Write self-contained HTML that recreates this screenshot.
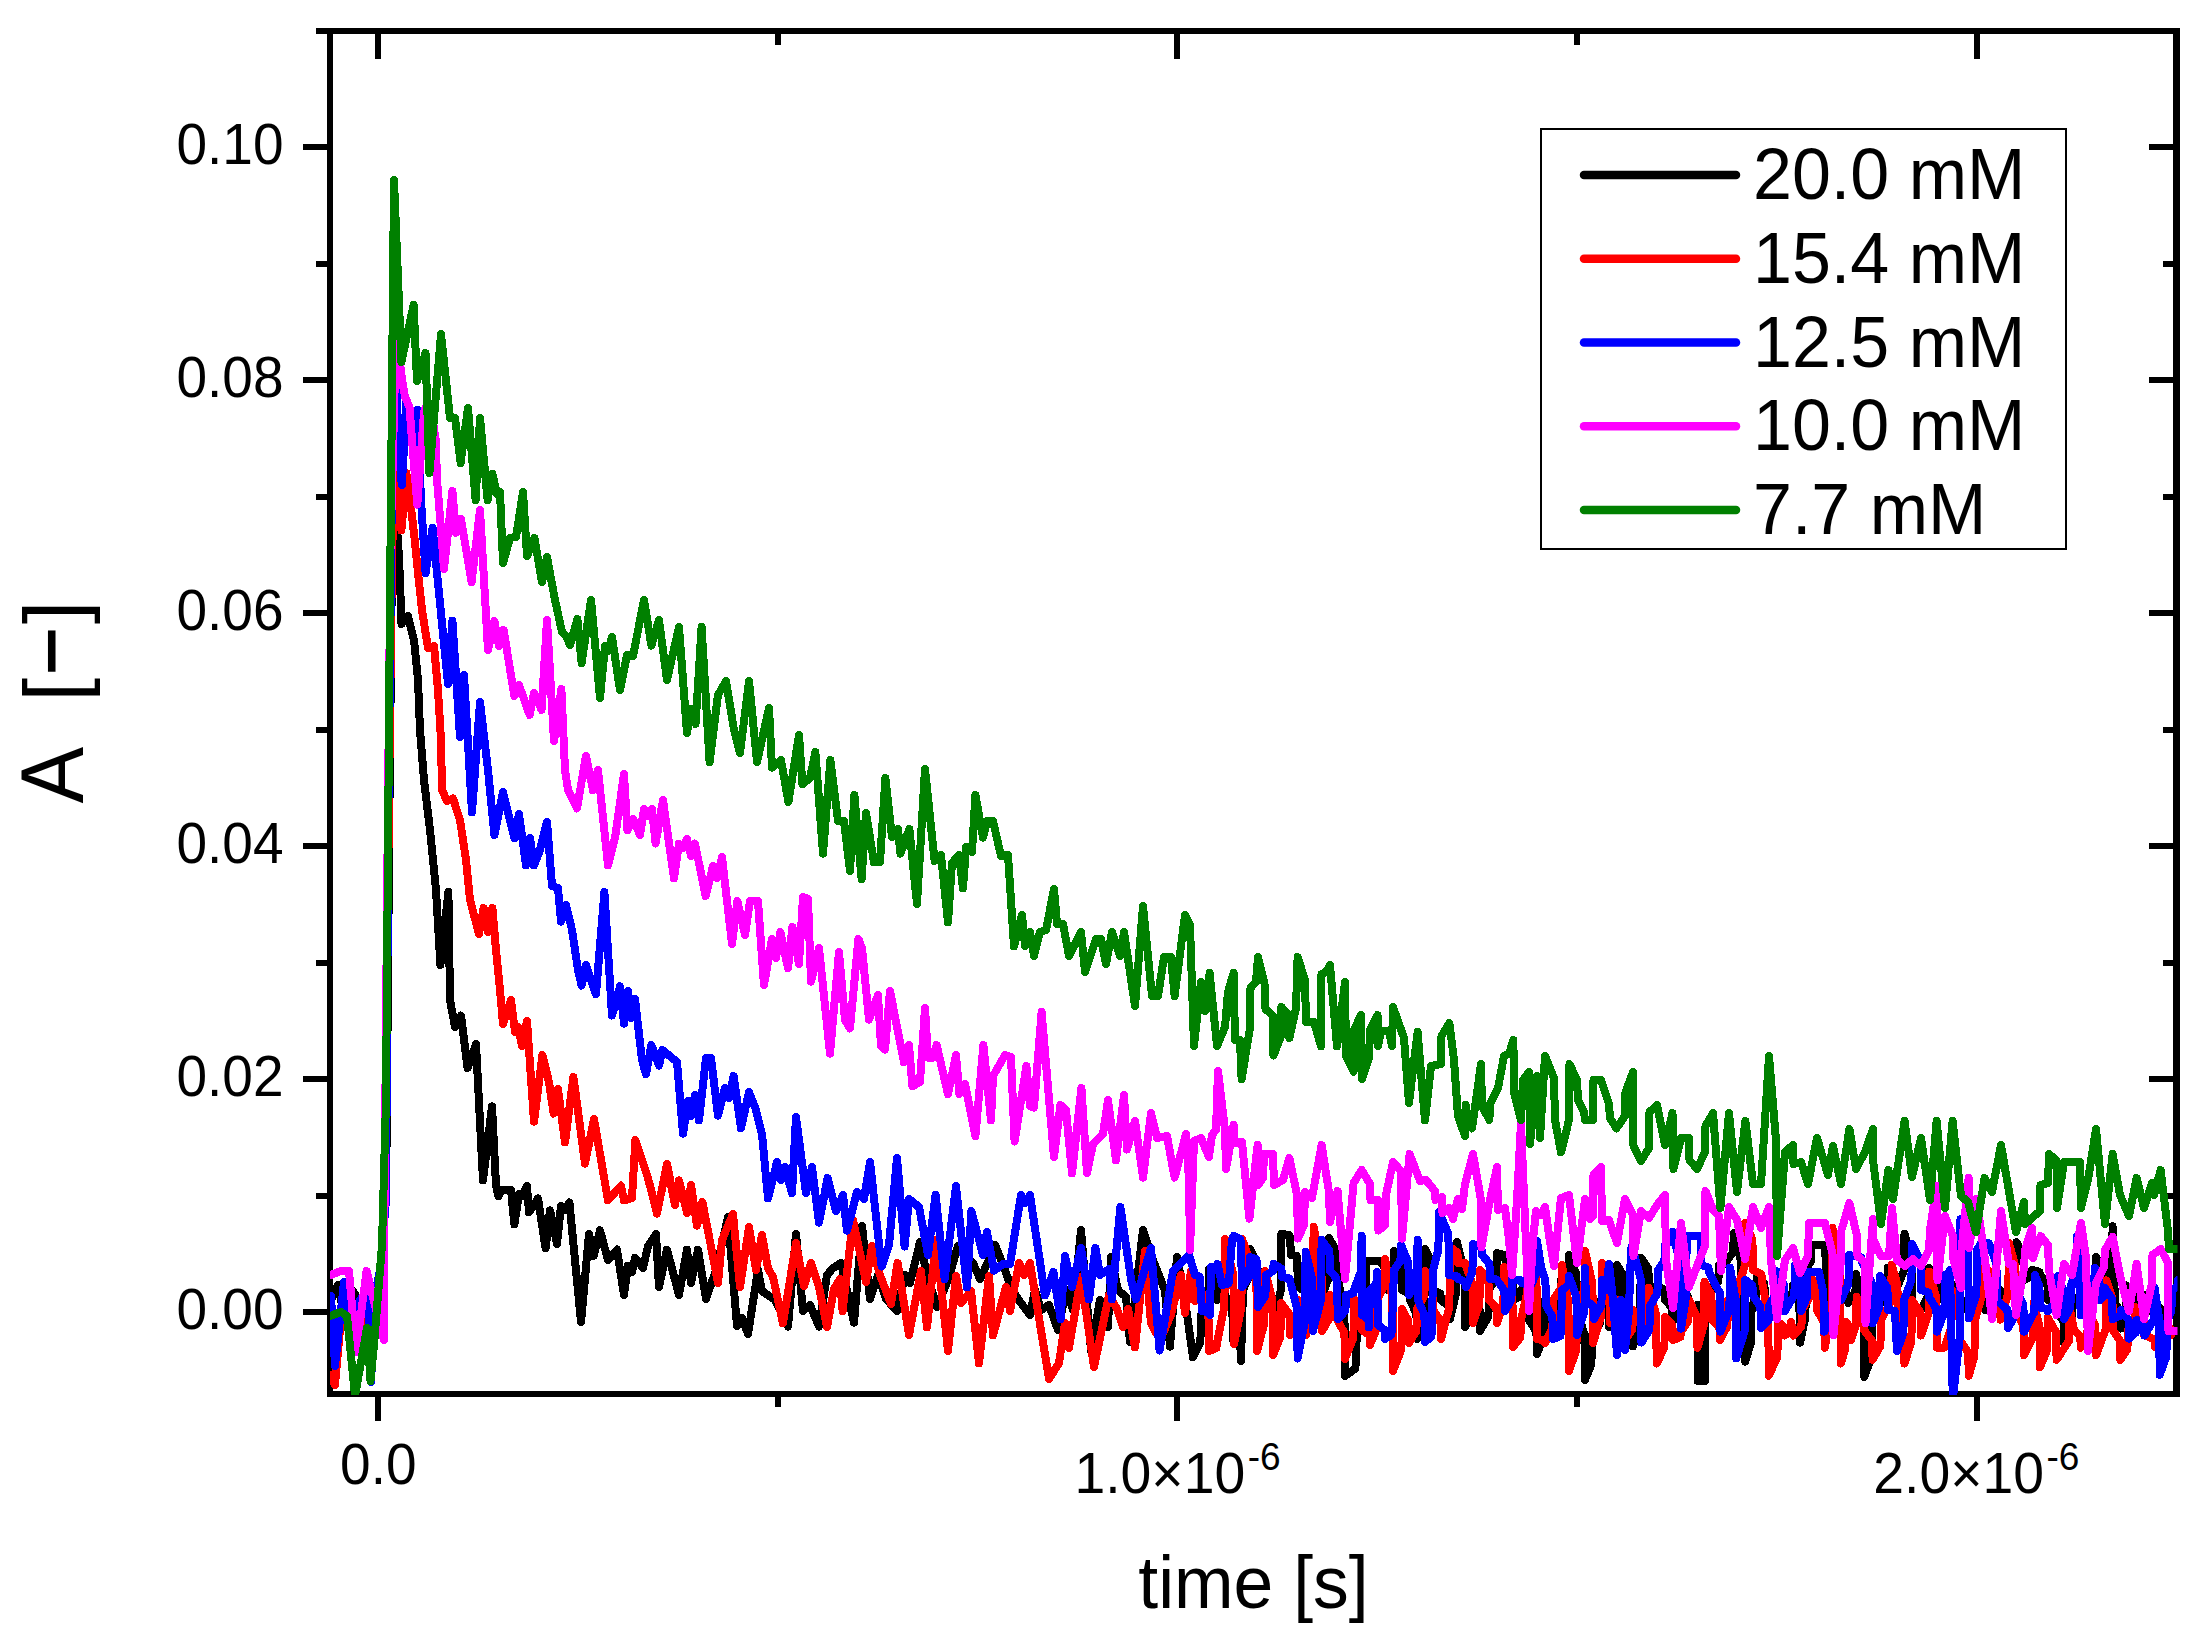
<!DOCTYPE html>
<html><head><meta charset="utf-8"><title>A vs time</title>
<style>
html,body{margin:0;padding:0;background:#fff;}
svg{display:block}
text{font-family:"Liberation Sans",sans-serif;fill:#000}
</style></head><body>
<svg width="2205" height="1649" viewBox="0 0 2205 1649">
<rect width="2205" height="1649" fill="#fff"/>
<clipPath id="pc"><rect x="330" y="31" width="1847.5" height="1364"/></clipPath>

<g fill="#000" shape-rendering="crispEdges">
<rect x="327" y="28" width="6" height="1369"/>
<rect x="2173" y="28" width="7" height="1369"/>
<rect x="327" y="28" width="1853" height="6"/>
<rect x="327" y="1391" width="1853" height="6"/>
<rect x="303" y="1309.0" width="25" height="6"/>
<rect x="2149" y="1309.0" width="25" height="6"/>
<rect x="316" y="1192.5" width="12" height="6"/>
<rect x="2163" y="1192.5" width="11" height="6"/>
<rect x="303" y="1076.1" width="25" height="6"/>
<rect x="2149" y="1076.1" width="25" height="6"/>
<rect x="316" y="959.6" width="12" height="6"/>
<rect x="2163" y="959.6" width="11" height="6"/>
<rect x="303" y="843.2" width="25" height="6"/>
<rect x="2149" y="843.2" width="25" height="6"/>
<rect x="316" y="726.7" width="12" height="6"/>
<rect x="2163" y="726.7" width="11" height="6"/>
<rect x="303" y="610.2" width="25" height="6"/>
<rect x="2149" y="610.2" width="25" height="6"/>
<rect x="316" y="493.8" width="12" height="6"/>
<rect x="2163" y="493.8" width="11" height="6"/>
<rect x="303" y="377.3" width="25" height="6"/>
<rect x="2149" y="377.3" width="25" height="6"/>
<rect x="316" y="260.9" width="12" height="6"/>
<rect x="2163" y="260.9" width="11" height="6"/>
<rect x="303" y="144.4" width="25" height="6"/>
<rect x="2149" y="144.4" width="25" height="6"/>
<rect x="316" y="27.9" width="12" height="6"/>
<rect x="2163" y="27.9" width="11" height="6"/>
<rect x="375.0" y="1396" width="6" height="25"/>
<rect x="375.0" y="33" width="6" height="26"/>
<rect x="774.6" y="1396" width="6" height="11"/>
<rect x="774.6" y="33" width="6" height="12"/>
<rect x="1174.3" y="1396" width="6" height="25"/>
<rect x="1174.3" y="33" width="6" height="26"/>
<rect x="1573.9" y="1396" width="6" height="11"/>
<rect x="1573.9" y="33" width="6" height="12"/>
<rect x="1973.6" y="1396" width="6" height="25"/>
<rect x="1973.6" y="33" width="6" height="26"/>
</g>
<g clip-path="url(#pc)" shape-rendering="crispEdges">
<polyline points="331.0,1300.0 338.0,1285.0 345.0,1320.0 352.0,1290.0 359.0,1300.0 366.0,1345.0 372.0,1310.0 380.0,1290.0 386.5,1150.0 389.5,800.0 392.0,560.0 393.5,497.0 394.0,500.0 398.0,540.0 400.0,580.0 401.0,610.0 401.5,624.0 408.0,616.0 414.0,640.0 418.0,680.0 420.0,730.0 424.0,780.0 430.0,830.0 436.0,890.0 440.4,965.0 448.4,891.6 450.0,1000.0 455.0,1027.0 461.0,1015.6 467.6,1068.0 476.0,1044.0 483.0,1180.4 492.0,1106.4 496.0,1185.0 498.4,1196.4 502.0,1190.0 511.0,1190.0 514.4,1224.4 519.0,1194.0 522.0,1196.0 527.0,1186.0 529.0,1212.4 538.0,1198.4 545.6,1248.4 550.0,1210.4 557.0,1244.0 561.0,1206.0 565.0,1210.0 569.4,1202.4 581.0,1322.0 589.0,1234.0 593.6,1256.0 600.0,1230.4 608.0,1260.0 617.0,1249.6 624.0,1295.0 628.0,1265.6 632.0,1272.0 635.0,1257.6 643.0,1268.0 648.0,1246.0 656.0,1234.0 659.0,1287.0 667.0,1249.6 679.0,1295.0 687.0,1249.6 691.0,1283.0 698.0,1249.6 706.0,1299.0 716.0,1270.0 728.0,1217.0 737.0,1326.0 742.0,1318.0 748.0,1334.0 758.0,1270.0 762.0,1291.0 775.0,1300.0 788.0,1326.6 796.0,1234.0 803.0,1311.0 810.0,1305.0 819.0,1326.6 827.0,1275.0 833.0,1268.0 841.0,1263.0 854.0,1322.6 862.0,1226.0 870.0,1299.0 878.0,1275.0 886.0,1299.0 897.0,1311.0 905.0,1275.0 910.0,1283.0 920.0,1242.0 927.0,1275.0 937.0,1307.0 948.0,1280.0 958.0,1246.0 966.0,1255.0 973.0,1263.0 980.0,1279.0 988.0,1262.0 995.0,1245.0 1004.0,1267.0 1012.0,1290.0 1021.0,1303.0 1030.0,1315.0 1035.0,1290.0 1041.0,1310.0 1049.0,1305.0 1058.0,1330.0 1066.0,1290.0 1073.0,1310.0 1081.0,1230.0 1091.0,1351.0 1100.0,1300.0 1108.0,1327.0 1111.0,1257.0 1118.0,1290.0 1126.0,1297.0 1130.0,1342.0 1143.0,1230.0 1151.0,1255.0 1159.0,1275.0 1165.0,1291.0 1170.0,1346.6 1177.0,1257.0 1185.0,1300.0 1193.0,1357.4 1200.4,1342.6 1201.0,1315.0 1208.4,1298.9 1209.0,1269.0 1216.4,1279.8 1217.0,1300.0 1224.4,1298.2 1225.0,1295.0 1232.4,1310.8 1233.0,1340.0 1240.4,1347.3 1241.0,1361.0 1243.0,1290.0 1249.4,1275.7 1250.0,1249.0 1257.4,1263.3 1258.0,1290.0 1265.4,1293.5 1266.0,1300.0 1272.4,1307.3 1273.0,1321.0 1280.8,1290.5 1281.4,1234.0 1289.4,1235.0 1290.0,1237.0 1291.0,1255.0 1296.4,1255.7 1297.0,1257.0 1298.0,1287.0 1305.4,1291.5 1306.0,1300.0 1313.4,1293.0 1314.0,1280.0 1320.4,1287.0 1321.0,1300.0 1328.4,1278.3 1329.0,1238.0 1336.4,1251.0 1337.0,1275.0 1344.4,1310.3 1345.0,1376.0 1355.4,1368.7 1356.0,1355.0 1357.0,1330.0 1365.4,1305.8 1366.0,1261.0 1379.4,1261.0 1380.0,1261.0 1387.4,1271.2 1388.0,1290.0 1393.4,1276.3 1394.0,1251.0 1401.4,1264.7 1402.0,1290.0 1409.4,1293.5 1410.0,1300.0 1416.4,1313.7 1417.0,1339.0 1424.4,1307.5 1425.0,1249.0 1432.4,1263.3 1433.0,1290.0 1440.4,1293.5 1441.0,1300.0 1449.4,1306.7 1450.0,1319.0 1456.4,1292.0 1457.0,1242.0 1464.4,1271.8 1465.0,1327.0 1472.4,1314.0 1473.0,1290.0 1479.4,1304.3 1480.0,1331.0 1488.4,1316.7 1489.0,1290.0 1496.4,1277.0 1497.0,1253.0 1504.4,1255.1 1505.0,1259.0 1512.4,1273.3 1513.0,1300.0 1520.4,1296.5 1521.0,1290.0 1528.4,1300.5 1529.0,1320.0 1536.4,1331.9 1537.0,1354.0 1544.4,1335.1 1545.0,1300.0 1552.4,1303.5 1553.0,1310.0 1560.4,1299.5 1561.0,1280.0 1568.4,1271.2 1569.0,1255.0 1576.4,1274.2 1577.0,1310.0 1584.4,1334.5 1585.0,1380.0 1591.4,1364.2 1592.0,1335.0 1600.4,1322.8 1601.0,1300.0 1608.4,1309.5 1609.0,1327.0 1616.4,1305.3 1617.0,1265.0 1624.4,1277.2 1625.0,1300.0 1632.4,1316.2 1633.0,1346.4 1640.2,1315.3 1640.8,1257.5 1648.4,1268.9 1649.0,1290.0 1656.4,1288.2 1657.0,1285.0 1664.4,1290.2 1665.0,1300.0 1672.1,1307.7 1672.7,1322.0 1680.4,1310.8 1681.0,1290.0 1688.4,1297.0 1689.0,1310.0 1696.9,1308.2 1697.5,1305.0 1697.7,1381.0 1704.4,1381.0 1705.0,1381.0 1705.2,1300.0 1710.4,1296.5 1711.0,1290.0 1718.4,1281.2 1719.0,1265.0 1725.4,1264.0 1726.0,1262.0 1733.2,1252.0 1733.8,1233.3 1740.4,1253.1 1741.0,1290.0 1745.2,1361.7 1751.0,1342.6 1751.6,1307.0 1756.4,1295.8 1757.0,1275.0 1764.4,1283.8 1765.0,1300.0 1769.4,1305.2 1770.0,1315.0 1777.4,1306.2 1778.0,1290.0 1785.4,1293.5 1786.0,1300.0 1792.4,1294.8 1793.0,1285.0 1799.4,1305.2 1800.0,1342.6 1805.4,1317.2 1806.0,1270.0 1810.8,1261.2 1811.4,1244.8 1824.8,1244.8 1825.4,1244.8 1826.0,1310.0 1832.4,1306.5 1833.0,1300.0 1840.4,1296.5 1841.0,1290.0 1847.8,1294.5 1848.4,1303.0 1855.4,1292.8 1856.0,1274.0 1863.7,1310.0 1864.3,1377.0 1871.4,1357.0 1872.0,1320.0 1879.4,1309.5 1880.0,1290.0 1887.2,1282.2 1887.8,1267.7 1895.4,1275.5 1896.0,1290.0 1903.9,1270.4 1904.5,1234.0 1911.4,1261.1 1912.0,1311.4 1920.4,1310.9 1921.0,1310.0 1928.4,1295.3 1929.0,1268.0 1936.4,1279.2 1937.0,1300.0 1944.4,1296.5 1945.0,1290.0 1952.4,1288.2 1953.0,1285.0 1960.4,1293.8 1961.0,1310.0 1968.4,1306.5 1969.0,1300.0 1976.4,1296.5 1977.0,1290.0 1984.4,1297.0 1985.0,1310.0 1992.4,1301.2 1993.0,1285.0 2000.4,1290.2 2001.0,1300.0 2008.4,1291.2 2009.0,1275.0 2015.9,1263.5 2016.5,1242.2 2023.4,1255.4 2024.0,1280.0 2031.4,1276.5 2032.0,1270.0 2039.4,1271.8 2040.0,1275.0 2047.4,1283.8 2048.0,1300.0 2055.4,1303.5 2056.0,1310.0 2063.6,1321.6 2064.2,1343.2 2071.4,1328.1 2072.0,1300.0 2079.4,1296.5 2080.0,1290.0 2087.4,1288.2 2088.0,1285.0 2095.4,1275.2 2096.0,1256.9 2103.4,1268.5 2104.0,1290.0 2112.0,1267.7 2112.6,1226.3 2115.0,1303.0 2120.4,1312.0 2121.0,1328.6 2126.0,1313.5 2126.6,1285.5 2135.4,1290.6 2136.0,1300.0 2143.4,1298.2 2144.0,1295.0 2151.4,1296.8 2152.0,1300.0 2161.0,1309.1 2161.6,1326.0 2168.4,1318.7 2169.0,1305.0 2177.4,1306.8 2178.0,1310.0" fill="none" stroke="#000000" stroke-width="8" stroke-linejoin="round" stroke-linecap="round"/>
<polyline points="331.0,1375.0 335.0,1385.0 340.0,1330.0 345.0,1300.0 352.0,1340.0 360.0,1310.0 368.0,1335.0 376.0,1300.0 383.0,1250.0 386.0,1100.0 389.0,800.0 392.0,560.0 394.5,462.0 401.4,530.5 406.4,473.0 411.4,511.0 414.5,538.0 417.7,570.0 422.0,610.0 428.0,648.0 434.0,646.0 438.0,690.0 441.0,740.0 442.0,790.0 447.0,801.0 453.0,798.4 460.0,820.0 466.0,860.0 470.0,900.0 479.0,934.0 483.6,908.0 488.0,932.0 492.4,908.0 496.0,950.0 500.0,990.0 503.0,1024.0 511.0,1000.0 515.0,1032.0 518.0,1027.0 522.0,1046.0 527.0,1021.0 534.0,1121.6 542.4,1055.0 549.0,1082.0 553.6,1113.6 558.0,1089.0 565.0,1142.4 573.4,1077.0 585.0,1163.6 594.0,1119.0 608.0,1200.4 621.0,1185.6 624.0,1200.4 632.0,1198.0 635.4,1140.0 648.0,1178.0 657.0,1213.6 667.0,1164.0 675.0,1205.0 679.0,1180.4 687.0,1213.0 691.0,1185.0 697.0,1225.6 702.4,1202.0 718.0,1283.0 722.0,1240.0 733.0,1214.0 740.0,1287.0 749.0,1227.0 756.0,1270.0 762.0,1235.0 768.0,1268.0 773.0,1277.0 783.0,1323.4 796.0,1243.0 804.0,1286.0 811.0,1263.0 819.0,1287.0 827.0,1327.0 834.0,1289.0 840.0,1279.0 842.6,1311.0 853.0,1220.0 866.0,1282.0 872.0,1246.0 880.0,1275.0 891.0,1304.0 897.6,1263.0 909.0,1335.0 921.0,1271.0 927.0,1327.4 936.0,1240.0 948.0,1351.0 956.0,1276.0 961.0,1303.0 971.0,1291.0 979.0,1363.4 989.0,1276.0 993.0,1335.4 1006.0,1287.0 1010.0,1311.0 1019.0,1263.0 1024.0,1275.0 1030.0,1263.0 1049.0,1379.0 1059.0,1363.0 1065.0,1323.0 1069.0,1348.0 1081.0,1277.0 1094.0,1367.0 1109.0,1295.0 1117.0,1309.0 1123.0,1327.0 1128.0,1309.0 1135.0,1347.4 1145.0,1251.0 1151.0,1323.4 1160.0,1340.0 1171.0,1315.0 1181.0,1275.0 1185.0,1313.0 1191.0,1271.0 1195.0,1301.0 1200.4,1297.2 1201.0,1290.0 1208.4,1311.3 1209.0,1351.0 1216.4,1348.2 1217.0,1343.0 1224.4,1306.6 1225.0,1239.0 1233.4,1275.8 1234.0,1344.0 1241.4,1307.2 1242.0,1239.0 1256.4,1278.2 1257.0,1351.0 1264.4,1323.0 1265.0,1271.0 1272.4,1300.4 1273.0,1355.0 1280.4,1336.8 1281.0,1303.0 1289.4,1314.2 1290.0,1335.0 1297.4,1322.8 1298.0,1300.0 1305.4,1312.2 1306.0,1335.0 1313.0,1297.2 1313.6,1227.0 1321.4,1263.4 1322.0,1331.0 1329.4,1318.4 1330.0,1295.0 1336.4,1303.4 1337.0,1319.0 1344.4,1333.0 1345.0,1359.0 1353.4,1338.0 1354.0,1299.0 1361.4,1309.8 1362.0,1330.0 1369.4,1335.2 1370.0,1345.0 1376.4,1329.2 1377.0,1300.0 1384.4,1285.7 1385.0,1259.0 1392.4,1298.2 1393.0,1371.0 1401.4,1349.3 1402.0,1309.0 1408.4,1320.9 1409.0,1343.0 1416.4,1331.1 1417.0,1309.0 1424.4,1295.7 1425.0,1271.0 1432.4,1284.7 1433.0,1310.0 1440.4,1320.2 1441.0,1339.0 1449.4,1306.8 1450.0,1247.0 1457.4,1252.6 1458.0,1263.0 1464.4,1263.0 1465.0,1263.0 1472.4,1284.0 1473.0,1323.0 1479.4,1304.5 1480.0,1270.0 1488.4,1280.5 1489.0,1300.0 1496.4,1308.0 1497.0,1323.0 1503.4,1303.4 1504.0,1267.0 1512.4,1295.0 1513.0,1347.0 1520.4,1337.5 1521.0,1320.0 1527.4,1291.7 1528.0,1239.0 1536.4,1274.0 1537.0,1339.0 1544.4,1340.4 1545.0,1343.0 1552.4,1328.0 1553.0,1300.0 1561.4,1287.8 1562.0,1265.0 1568.4,1302.1 1569.0,1371.0 1576.4,1349.7 1577.0,1310.0 1584.4,1289.3 1585.0,1251.0 1592.4,1283.2 1593.0,1343.0 1601.4,1315.0 1602.0,1263.0 1609.4,1284.0 1610.0,1323.0 1616.4,1315.0 1617.0,1300.0 1624.4,1314.0 1625.0,1340.0 1632.4,1329.5 1633.0,1310.0 1640.4,1320.5 1641.0,1340.0 1647.9,1321.8 1648.5,1288.0 1656.1,1314.5 1656.7,1363.6 1664.4,1347.3 1665.0,1317.0 1672.4,1325.0 1673.0,1340.0 1680.4,1337.1 1681.0,1331.7 1688.4,1320.6 1689.0,1300.0 1696.9,1316.7 1697.5,1347.7 1703.9,1324.6 1704.5,1281.7 1711.4,1295.1 1712.0,1320.0 1719.4,1327.0 1720.0,1340.0 1727.4,1326.0 1728.0,1300.0 1736.4,1296.5 1737.0,1290.0 1744.6,1266.5 1745.2,1223.0 1752.4,1239.5 1753.0,1270.0 1761.4,1274.1 1762.0,1281.6 1768.2,1314.5 1768.8,1375.7 1777.4,1356.9 1778.0,1322.0 1784.1,1326.8 1784.7,1335.6 1790.4,1330.8 1791.0,1322.0 1793.6,1335.6 1801.4,1326.6 1802.0,1310.0 1809.4,1297.8 1810.0,1275.0 1816.4,1287.2 1817.0,1310.0 1824.2,1323.2 1824.8,1347.7 1831.8,1305.7 1832.4,1227.6 1840.1,1275.2 1840.7,1363.6 1845.4,1349.0 1846.0,1322.0 1850.4,1328.3 1851.0,1340.0 1856.0,1325.0 1856.6,1297.0 1863.4,1308.5 1864.0,1330.0 1872.0,1340.4 1872.6,1359.8 1880.4,1345.9 1881.0,1320.0 1891.1,1300.8 1891.7,1265.0 1897.4,1284.2 1898.0,1320.0 1903.9,1335.3 1904.5,1363.6 1911.4,1341.3 1912.0,1300.0 1920.4,1312.5 1921.0,1335.6 1928.7,1313.2 1929.3,1271.5 1936.4,1298.2 1937.0,1347.7 1944.0,1347.7 1944.6,1347.7 1951.4,1327.5 1952.0,1290.0 1959.4,1307.5 1960.0,1340.0 1968.2,1352.5 1968.8,1375.7 1974.4,1356.2 1975.0,1320.0 1980.9,1299.0 1981.5,1260.0 1990.4,1274.0 1991.0,1300.0 2000.0,1306.9 2000.6,1319.7 2008.3,1292.8 2008.9,1242.9 2015.4,1266.4 2016.0,1310.0 2023.4,1325.9 2024.0,1355.3 2033.1,1337.0 2033.7,1303.0 2039.4,1325.5 2040.0,1367.4 2047.1,1349.9 2047.7,1317.4 2056.0,1332.2 2056.6,1359.8 2068.7,1341.3 2069.3,1307.0 2074.0,1330.0 2080.2,1336.2 2080.8,1347.7 2087.4,1334.5 2088.0,1310.0 2095.4,1325.9 2096.0,1355.3 2105.7,1329.1 2106.3,1280.4 2112.4,1297.8 2113.0,1330.0 2119.7,1340.4 2120.3,1359.8 2127.4,1349.4 2128.0,1330.0 2134.9,1322.0 2135.5,1307.0 2143.4,1316.8 2144.0,1335.0 2154.4,1339.2 2155.0,1347.0 2162.4,1339.3 2163.0,1325.0 2170.4,1328.5 2171.0,1335.0" fill="none" stroke="#ff0000" stroke-width="8" stroke-linejoin="round" stroke-linecap="round"/>
<polyline points="331.0,1296.0 335.0,1366.0 344.0,1282.0 352.0,1330.0 360.0,1300.0 368.0,1290.0 371.0,1382.0 376.0,1290.0 380.0,1270.0 386.0,1200.0 388.5,800.0 392.0,480.0 395.5,358.0 397.8,440.0 401.8,485.0 404.5,440.0 406.0,402.0 410.0,425.0 413.5,445.0 417.5,410.0 421.0,500.0 425.6,573.0 432.6,528.0 448.0,684.0 452.4,620.6 460.0,737.0 464.0,675.0 472.0,812.4 480.0,702.0 488.0,770.0 494.4,835.0 503.0,792.0 514.4,838.4 519.0,814.0 526.0,865.4 530.0,838.0 534.0,865.4 540.0,850.0 547.0,822.0 552.0,886.0 558.0,888.0 561.0,921.6 566.0,905.0 572.0,930.0 578.0,970.0 581.6,985.6 586.0,965.0 596.0,994.4 604.4,892.0 612.0,1015.6 620.0,986.4 624.0,1023.6 628.0,991.0 631.0,1018.0 635.0,999.0 642.0,1060.0 646.0,1074.4 651.4,1045.0 659.0,1065.6 662.4,1050.0 677.0,1062.0 683.0,1133.6 688.0,1101.0 691.0,1116.0 695.0,1095.0 699.0,1120.4 706.0,1058.0 711.0,1058.0 718.0,1115.6 725.0,1088.0 729.0,1098.0 733.6,1076.0 741.0,1128.4 749.0,1092.0 756.0,1110.0 762.0,1134.0 768.0,1198.4 777.0,1162.0 781.0,1180.0 785.0,1167.0 792.0,1193.4 796.0,1117.0 806.0,1193.0 812.0,1167.0 819.0,1222.6 827.6,1178.0 836.0,1211.0 843.0,1195.0 847.0,1230.6 857.0,1192.0 864.0,1199.0 870.0,1162.0 881.6,1266.6 889.0,1245.0 897.0,1158.0 904.6,1246.6 909.0,1199.0 919.0,1207.0 928.0,1255.0 935.6,1195.0 944.6,1279.0 956.0,1186.0 967.0,1287.4 971.4,1211.0 983.0,1255.0 987.0,1232.0 994.0,1270.6 1003.0,1264.0 1010.0,1264.0 1021.0,1195.0 1025.4,1203.0 1030.0,1195.0 1045.0,1295.4 1053.4,1272.0 1060.6,1319.0 1065.0,1256.0 1072.0,1287.0 1081.0,1248.0 1089.0,1299.4 1095.4,1248.0 1100.0,1275.0 1109.0,1269.0 1112.0,1299.4 1120.4,1207.0 1131.0,1279.0 1136.0,1299.4 1151.0,1248.0 1159.6,1350.6 1173.0,1271.0 1189.0,1255.0 1195.0,1275.0 1199.4,1276.4 1200.0,1279.0 1202.0,1311.0 1209.4,1312.4 1210.0,1315.0 1211.0,1267.0 1217.0,1266.0 1217.6,1264.0 1222.0,1285.0 1228.4,1283.6 1229.0,1281.0 1232.0,1240.0 1233.6,1236.0 1240.4,1239.2 1241.0,1245.0 1242.0,1287.0 1249.4,1276.5 1250.0,1257.0 1256.4,1259.1 1257.0,1263.0 1258.0,1307.0 1265.4,1295.8 1266.0,1275.0 1273.0,1271.2 1273.6,1264.0 1281.4,1268.5 1282.0,1277.0 1289.4,1278.4 1290.0,1281.0 1297.0,1308.2 1297.6,1358.6 1305.0,1321.3 1305.6,1252.0 1312.4,1279.7 1313.0,1331.0 1321.0,1299.2 1321.6,1240.0 1329.4,1250.8 1330.0,1271.0 1336.4,1278.0 1337.0,1291.0 1338.0,1319.0 1345.4,1310.6 1346.0,1295.0 1353.4,1293.2 1354.0,1290.0 1361.0,1271.1 1361.6,1236.0 1362.0,1315.0 1368.4,1319.3 1369.0,1327.4 1370.0,1290.0 1376.4,1283.7 1377.0,1272.0 1378.0,1325.0 1384.4,1329.9 1385.0,1339.0 1391.4,1334.8 1392.0,1327.0 1394.0,1270.0 1400.4,1261.2 1401.0,1245.0 1408.4,1262.5 1409.0,1295.0 1417.0,1275.8 1417.6,1240.0 1418.0,1300.0 1424.4,1314.7 1425.0,1342.0 1431.4,1336.8 1432.0,1327.0 1433.0,1270.0 1438.4,1249.7 1439.0,1212.0 1448.4,1234.0 1449.0,1275.0 1457.4,1276.4 1458.0,1279.0 1465.4,1281.8 1466.0,1287.0 1472.4,1272.0 1473.0,1244.0 1481.4,1247.8 1482.0,1255.0 1489.4,1263.4 1490.0,1279.0 1496.4,1279.3 1497.0,1280.0 1504.4,1290.8 1505.0,1311.0 1511.4,1299.8 1512.0,1279.0 1521.4,1280.4 1522.0,1283.0 1528.4,1285.5 1529.0,1290.0 1536.4,1272.8 1537.0,1241.0 1541.0,1267.0 1545.4,1280.3 1546.0,1305.0 1552.4,1316.9 1553.0,1339.0 1560.4,1336.2 1561.0,1331.0 1562.0,1290.0 1568.4,1285.1 1569.0,1276.0 1576.4,1296.7 1577.0,1335.0 1584.4,1311.5 1585.0,1268.0 1586.0,1300.0 1593.4,1306.7 1594.0,1319.0 1601.4,1305.3 1602.0,1280.0 1606.0,1290.0 1609.0,1264.0 1613.0,1300.0 1617.0,1355.0 1621.0,1300.0 1625.0,1350.0 1629.0,1310.0 1631.0,1250.0 1632.0,1246.0 1640.9,1279.8 1641.5,1342.6 1649.4,1329.8 1650.0,1306.0 1657.4,1293.4 1658.0,1270.0 1664.4,1261.2 1665.0,1245.0 1672.1,1240.4 1672.7,1231.8 1680.4,1265.7 1681.0,1328.6 1686.1,1296.2 1686.7,1236.0 1700.1,1236.0 1700.7,1236.0 1701.0,1265.0 1708.4,1267.5 1709.0,1272.0 1719.8,1292.9 1720.4,1331.7 1729.4,1309.3 1730.0,1267.7 1735.7,1299.5 1736.3,1358.5 1744.6,1331.0 1745.2,1279.8 1752.4,1285.3 1753.0,1295.6 1760.4,1306.9 1761.0,1328.0 1768.8,1319.8 1769.4,1304.5 1776.4,1292.9 1777.0,1271.4 1784.1,1285.4 1784.7,1311.4 1794.4,1295.2 1795.0,1265.0 1800.4,1281.1 1801.0,1311.0 1807.0,1297.3 1807.6,1272.0 1818.4,1272.0 1819.0,1272.0 1823.4,1292.9 1824.0,1331.7 1832.4,1317.1 1833.0,1290.0 1840.4,1293.5 1841.0,1300.0 1848.4,1284.2 1849.0,1255.0 1861.4,1257.5 1862.0,1262.0 1872.0,1283.5 1872.6,1323.5 1879.4,1306.9 1880.0,1276.0 1887.4,1287.9 1888.0,1310.0 1894.4,1310.7 1895.0,1312.0 1897.0,1351.0 1903.4,1333.2 1904.0,1300.0 1911.4,1280.4 1912.0,1244.0 1920.4,1260.1 1921.0,1290.0 1928.4,1292.5 1929.0,1297.0 1936.4,1309.1 1937.0,1331.7 1944.4,1311.9 1945.0,1275.0 1949.4,1273.2 1950.0,1270.0 1952.8,1399.0 1959.9,1336.1 1960.5,1219.3 1968.2,1254.0 1968.8,1318.4 1976.4,1294.5 1977.0,1250.0 1981.0,1243.0 1988.4,1243.2 1989.0,1243.5 1996.4,1263.3 1997.0,1300.0 2007.4,1309.8 2008.0,1328.0 2015.4,1314.7 2016.0,1290.0 2023.4,1304.6 2024.0,1331.7 2034.4,1311.9 2035.0,1275.0 2039.4,1286.4 2040.0,1307.6 2047.1,1308.9 2047.7,1311.4 2057.3,1299.0 2057.9,1276.0 2063.6,1291.0 2064.2,1319.0 2070.4,1307.1 2071.0,1285.0 2076.4,1267.8 2077.0,1235.9 2080.8,1315.2 2087.4,1306.4 2088.0,1290.0 2094.2,1282.3 2094.8,1268.0 2099.4,1279.2 2100.0,1300.0 2104.4,1295.8 2105.0,1288.0 2112.0,1298.8 2112.6,1319.0 2120.4,1315.8 2121.0,1310.0 2128.6,1320.0 2129.2,1338.7 2136.2,1332.2 2136.8,1320.0 2143.9,1325.5 2144.5,1335.6 2154.0,1318.9 2154.6,1288.0 2159.1,1318.5 2159.7,1375.0 2166.4,1356.5 2167.0,1322.0 2171.4,1310.8 2172.0,1290.0 2177.4,1286.6 2178.0,1280.3" fill="none" stroke="#0000ff" stroke-width="8" stroke-linejoin="round" stroke-linecap="round"/>
<polyline points="331.0,1275.0 341.0,1271.0 349.0,1271.0 356.0,1352.0 366.6,1271.0 376.0,1310.0 384.0,1340.0 384.0,1270.0 386.2,1000.0 388.0,800.0 390.5,550.0 396.0,335.0 397.5,321.0 400.5,367.0 402.3,381.0 405.0,397.0 407.7,403.0 409.5,407.0 412.0,440.0 417.3,504.6 424.0,412.0 427.0,404.0 431.0,410.0 435.5,438.0 437.3,483.6 441.0,529.0 444.0,569.0 452.4,491.0 456.0,532.8 461.0,519.0 471.6,582.0 480.0,510.0 488.0,650.0 494.4,621.0 499.0,646.0 503.6,630.0 514.4,696.0 519.0,685.0 529.6,715.0 534.0,693.0 541.6,710.0 547.0,620.0 554.0,741.0 561.4,689.0 565.0,770.0 568.0,790.0 577.0,808.4 586.0,756.0 593.0,790.4 598.0,770.0 608.0,865.4 615.0,838.0 624.0,774.0 627.4,830.4 633.0,819.0 640.0,835.0 644.0,809.0 648.0,816.0 652.0,809.0 655.6,843.6 663.0,800.0 674.0,878.4 679.0,843.6 683.0,848.0 687.0,839.0 691.0,856.0 695.0,843.6 705.6,896.0 713.0,866.0 717.0,878.0 722.0,857.0 732.0,944.0 737.4,901.0 745.0,935.0 750.0,901.0 758.0,901.0 764.0,985.0 772.0,939.0 776.0,958.0 780.4,932.0 788.0,968.4 792.4,927.0 799.0,964.0 803.0,897.0 808.0,899.0 811.0,981.6 819.0,948.0 830.0,1053.6 839.0,952.0 845.0,1020.0 850.0,1028.4 858.4,939.0 862.0,948.0 869.0,1019.6 878.0,995.0 881.0,1046.0 885.0,1049.6 890.0,991.0 904.0,1062.4 909.0,1045.0 912.4,1086.4 920.0,1082.0 925.0,1008.0 928.0,1057.6 933.0,1057.6 936.6,1045.0 948.0,1094.4 956.0,1055.0 959.4,1094.0 965.0,1084.0 975.4,1136.4 983.4,1045.0 991.0,1120.4 993.0,1076.0 1005.0,1055.0 1011.0,1057.0 1014.6,1141.6 1026.4,1066.0 1030.0,1106.0 1034.0,1107.6 1041.6,1012.0 1054.0,1157.0 1060.4,1105.0 1066.0,1110.0 1072.0,1173.4 1081.4,1088.0 1087.0,1173.0 1093.0,1144.0 1103.0,1134.0 1108.0,1100.0 1116.0,1160.4 1124.0,1095.0 1127.0,1149.6 1135.0,1121.0 1143.0,1177.6 1151.0,1113.0 1157.0,1138.0 1167.0,1136.0 1174.6,1177.6 1186.0,1134.0 1189.0,1180.0 1190.0,1250.0 1194.0,1141.0 1201.0,1138.0 1209.0,1157.0 1212.0,1135.0 1216.0,1130.0 1218.0,1071.0 1225.0,1130.0 1226.0,1169.0 1233.6,1125.0 1234.0,1143.0 1242.0,1142.0 1249.4,1218.6 1257.6,1145.0 1258.0,1185.0 1263.0,1178.0 1264.0,1154.0 1273.0,1154.0 1274.0,1185.0 1283.0,1180.0 1289.4,1158.0 1297.0,1195.0 1298.0,1238.6 1304.0,1225.0 1305.0,1192.0 1312.0,1198.0 1321.6,1145.0 1329.0,1192.0 1330.0,1222.0 1337.6,1191.0 1345.0,1279.0 1353.6,1183.0 1361.6,1170.0 1370.0,1184.0 1370.5,1200.0 1378.0,1200.0 1378.5,1230.6 1385.0,1225.0 1386.0,1195.0 1393.0,1162.0 1401.0,1171.0 1402.0,1238.6 1409.6,1154.0 1420.0,1181.0 1426.0,1180.0 1435.0,1191.0 1435.5,1200.0 1442.0,1197.0 1442.5,1213.0 1449.0,1208.0 1453.0,1219.0 1458.0,1199.0 1462.0,1209.0 1465.0,1184.0 1473.0,1154.0 1481.0,1200.0 1481.5,1247.0 1490.0,1200.0 1497.0,1167.0 1498.0,1210.0 1505.0,1208.0 1509.0,1240.0 1512.0,1275.0 1517.0,1200.0 1521.0,1123.0 1525.0,1220.0 1529.0,1311.0 1533.0,1240.0 1536.0,1211.0 1541.0,1215.0 1545.0,1207.0 1549.0,1235.0 1554.0,1266.0 1561.0,1198.0 1569.0,1195.0 1577.0,1263.0 1585.0,1199.0 1590.0,1219.0 1593.0,1216.0 1593.5,1175.0 1601.0,1167.0 1602.0,1221.0 1609.0,1220.0 1617.0,1243.0 1625.0,1199.0 1633.0,1215.0 1633.5,1256.0 1641.0,1211.0 1649.0,1218.0 1657.0,1205.0 1665.0,1195.0 1666.0,1260.0 1673.0,1308.0 1681.0,1223.0 1689.0,1287.0 1697.0,1266.0 1705.0,1246.0 1705.5,1191.0 1713.0,1210.0 1719.0,1216.0 1721.0,1271.0 1729.0,1207.0 1737.0,1220.0 1745.0,1259.0 1753.0,1207.0 1761.0,1228.0 1769.0,1207.0 1771.0,1260.0 1777.0,1319.0 1785.0,1260.0 1793.0,1248.0 1800.0,1273.0 1808.0,1256.0 1809.0,1223.0 1825.0,1223.0 1833.0,1256.0 1833.5,1335.0 1841.0,1260.0 1841.5,1230.0 1849.4,1203.0 1857.0,1236.0 1857.5,1256.0 1865.0,1263.0 1865.5,1323.0 1873.0,1219.0 1873.5,1240.0 1881.0,1256.0 1889.0,1256.0 1892.0,1208.0 1897.0,1260.0 1905.0,1266.0 1913.0,1259.0 1921.0,1266.0 1929.0,1250.0 1930.0,1230.0 1936.6,1186.0 1937.5,1280.0 1945.0,1216.0 1953.0,1236.0 1953.5,1260.0 1961.0,1288.0 1961.5,1250.0 1968.6,1178.0 1969.0,1248.0 1976.6,1199.0 1985.0,1260.0 1992.0,1319.0 2001.0,1211.0 2009.0,1264.0 2013.0,1264.0 2016.0,1315.0 2024.0,1268.0 2025.0,1250.0 2032.0,1228.0 2033.0,1258.0 2040.6,1236.0 2048.0,1245.0 2049.0,1270.0 2056.6,1315.0 2064.0,1264.0 2072.0,1275.0 2081.0,1223.0 2086.0,1258.0 2088.0,1351.0 2096.0,1283.0 2104.0,1267.0 2105.0,1250.0 2112.6,1237.0 2120.0,1275.0 2129.0,1311.0 2136.6,1264.0 2144.0,1319.0 2152.0,1283.0 2152.5,1255.0 2160.6,1249.0 2168.0,1263.0 2168.5,1331.0 2178.0,1331.0" fill="none" stroke="#ff00ff" stroke-width="8" stroke-linejoin="round" stroke-linecap="round"/>
<polyline points="330.0,1316.0 341.0,1312.0 347.0,1316.0 355.0,1396.0 367.0,1328.0 370.5,1381.0 374.0,1345.0 378.0,1295.0 382.0,1245.0 386.0,1100.0 390.0,600.0 394.0,180.0 401.4,362.0 413.6,305.0 417.0,381.0 425.5,353.0 429.4,473.0 441.0,334.0 450.0,418.0 455.0,418.0 460.6,463.0 468.0,408.0 475.6,500.0 480.0,418.0 487.6,500.0 492.4,473.6 497.0,494.0 500.0,492.0 503.0,563.0 510.0,538.0 516.0,537.0 523.0,492.0 527.0,556.0 534.4,538.0 542.0,582.0 547.0,557.0 555.0,600.0 562.0,632.0 566.0,636.0 570.0,645.0 577.4,619.0 581.6,663.0 591.0,600.0 600.0,698.0 605.0,646.0 608.0,651.0 612.0,637.0 620.0,690.0 627.0,655.0 633.0,656.0 644.0,600.0 651.4,645.6 659.0,620.0 667.0,680.0 679.0,627.0 687.0,733.0 691.0,709.0 695.6,724.0 701.6,627.0 709.6,762.0 718.0,695.0 726.0,681.0 734.0,730.0 740.0,753.0 749.0,681.0 757.0,762.0 769.0,708.0 772.0,767.6 781.0,760.0 788.4,802.0 799.0,735.0 802.4,784.4 810.0,778.0 815.4,752.0 823.0,853.6 830.4,760.0 838.0,821.0 844.0,821.0 850.0,871.0 854.4,795.0 861.6,879.0 866.0,813.0 874.0,862.4 880.0,862.0 885.4,778.0 892.0,837.0 898.0,829.0 900.4,853.6 909.4,829.0 917.0,904.0 925.0,769.0 934.6,861.0 941.0,855.0 948.0,922.4 952.0,863.0 959.0,855.0 963.0,888.4 966.0,847.0 972.0,852.0 975.4,795.0 983.0,837.6 987.0,821.0 993.0,821.0 1001.0,856.0 1008.0,855.0 1014.0,946.4 1022.0,915.0 1025.0,946.0 1030.0,932.0 1034.0,956.0 1040.0,932.0 1046.0,930.0 1054.0,889.0 1057.0,924.0 1063.0,924.0 1069.0,956.0 1081.0,932.0 1085.0,972.0 1096.0,939.0 1101.0,939.0 1106.0,964.0 1112.0,932.0 1120.0,956.0 1124.0,932.0 1135.0,1006.0 1143.0,906.0 1152.0,996.0 1158.0,996.0 1164.0,957.0 1171.0,957.0 1174.6,996.0 1185.0,915.0 1190.0,925.0 1194.0,1046.0 1201.0,982.0 1205.0,1011.0 1209.6,973.0 1217.0,1046.0 1225.0,1027.0 1228.0,992.0 1233.6,973.0 1235.0,1040.0 1240.0,1040.0 1241.6,1079.0 1250.0,1028.0 1250.5,988.0 1256.0,982.0 1258.0,957.0 1265.0,986.0 1265.5,1009.0 1273.0,1016.0 1273.5,1055.6 1281.0,1036.0 1281.4,1007.0 1288.0,1014.0 1289.4,1038.0 1296.0,1008.0 1297.6,957.0 1305.0,980.0 1306.0,1022.0 1314.0,1022.0 1321.0,1046.4 1321.5,974.0 1326.0,972.0 1330.0,965.0 1337.0,1046.4 1345.0,982.0 1346.0,1056.0 1353.6,1071.6 1354.0,1030.0 1361.0,1015.0 1362.0,1079.0 1369.0,1058.0 1370.0,1030.0 1377.6,1015.0 1378.0,1046.0 1381.0,1031.0 1389.0,1031.0 1392.0,1046.0 1393.0,1007.0 1404.0,1038.0 1409.0,1103.0 1417.6,1032.0 1425.0,1120.4 1431.0,1066.0 1441.0,1064.0 1441.5,1036.0 1449.4,1023.0 1454.0,1060.0 1458.0,1116.0 1465.0,1136.0 1465.6,1105.0 1469.0,1125.0 1472.0,1128.4 1481.0,1064.0 1482.0,1106.0 1489.4,1120.0 1490.0,1104.0 1498.0,1088.0 1504.0,1056.0 1509.0,1054.0 1513.4,1040.0 1514.0,1092.0 1521.0,1120.0 1523.0,1080.0 1529.0,1072.0 1530.0,1144.0 1537.0,1076.0 1540.0,1138.0 1545.0,1056.0 1554.0,1078.0 1555.0,1120.0 1561.0,1152.4 1569.0,1120.0 1569.5,1064.0 1577.0,1080.0 1578.0,1100.0 1584.0,1112.0 1585.0,1120.0 1593.0,1120.0 1593.5,1080.0 1601.0,1080.0 1609.0,1104.0 1610.0,1118.0 1616.4,1128.4 1625.0,1116.0 1625.5,1092.0 1633.0,1072.0 1633.5,1146.0 1641.0,1161.0 1649.0,1148.0 1649.5,1112.0 1657.0,1105.0 1665.0,1145.0 1672.5,1113.0 1673.5,1169.0 1681.0,1138.0 1689.0,1138.0 1689.5,1160.0 1697.0,1169.0 1705.0,1152.0 1705.5,1126.0 1713.0,1113.0 1720.4,1208.0 1729.0,1113.0 1737.0,1192.0 1745.4,1121.0 1753.0,1184.0 1761.0,1184.0 1769.0,1056.0 1776.0,1140.0 1777.0,1256.0 1785.0,1152.0 1793.0,1145.0 1793.5,1164.0 1801.0,1162.0 1808.0,1184.0 1817.0,1138.0 1828.0,1175.0 1833.0,1146.0 1841.0,1184.0 1849.4,1129.0 1856.0,1169.0 1865.0,1152.0 1873.0,1129.0 1873.5,1164.0 1881.0,1224.0 1888.4,1170.0 1893.0,1199.0 1904.6,1121.0 1912.0,1177.0 1921.0,1138.0 1930.0,1200.0 1936.6,1121.0 1945.0,1208.0 1952.6,1121.0 1961.0,1196.0 1968.0,1202.0 1976.0,1232.0 1984.6,1178.0 1992.0,1192.0 2001.0,1145.0 2016.0,1232.0 2024.0,1202.0 2025.0,1224.0 2040.0,1211.0 2040.5,1185.0 2048.0,1183.0 2049.0,1154.0 2056.4,1160.0 2057.0,1208.0 2064.0,1162.0 2080.0,1162.0 2081.0,1208.0 2088.0,1180.0 2096.0,1129.0 2105.0,1224.0 2112.6,1154.0 2120.0,1195.0 2129.0,1216.0 2136.6,1178.0 2144.0,1208.0 2152.0,1183.0 2154.0,1195.0 2160.6,1170.0 2168.0,1231.0 2169.0,1249.0 2178.0,1249.0" fill="none" stroke="#008000" stroke-width="8" stroke-linejoin="round" stroke-linecap="round"/>
</g>
<text x="283.5" y="1329.0" font-size="55" text-anchor="end" transform="translate(0,1329.0) scale(1,1.04) translate(0,-1329.0)">0.00</text>
<text x="283.5" y="1096.1" font-size="55" text-anchor="end" transform="translate(0,1096.1) scale(1,1.04) translate(0,-1096.1)">0.02</text>
<text x="283.5" y="863.2" font-size="55" text-anchor="end" transform="translate(0,863.2) scale(1,1.04) translate(0,-863.2)">0.04</text>
<text x="283.5" y="630.2" font-size="55" text-anchor="end" transform="translate(0,630.2) scale(1,1.04) translate(0,-630.2)">0.06</text>
<text x="283.5" y="397.3" font-size="55" text-anchor="end" transform="translate(0,397.3) scale(1,1.04) translate(0,-397.3)">0.08</text>
<text x="283.5" y="164.4" font-size="55" text-anchor="end" transform="translate(0,164.4) scale(1,1.04) translate(0,-164.4)">0.10</text>
<text x="378.3" y="1484" font-size="55" text-anchor="middle" transform="translate(0,1484.0) scale(1,1.04) translate(0,-1484.0)">0.0</text>
<text x="1074.5" y="1493" font-size="55.3" transform="translate(0,1493.0) scale(1,1.04) translate(0,-1493.0)">1.0×10<tspan font-size="37" dx="2.5" dy="-22.2">-6</tspan></text>
<text x="1873.3" y="1493" font-size="55.3" transform="translate(0,1493.0) scale(1,1.04) translate(0,-1493.0)">2.0×10<tspan font-size="37" dx="2.5" dy="-22.2">-6</tspan></text>
<text x="1253.5" y="1608" font-size="71.5" text-anchor="middle" transform="translate(0,1608.0) scale(1,1.04) translate(0,-1608.0)">time [s]</text>
<text transform="translate(83,803.5) rotate(-90) scale(1,1.04)" font-size="85">A</text>
<text transform="translate(83,803.5) rotate(-90) scale(1,0.98)" font-size="85" x="102">[</text>
<text transform="translate(87,803.5) rotate(-90) scale(1,1.25)" font-size="85" x="127.6">−</text>
<text transform="translate(83,803.5) rotate(-90) scale(1,0.98)" font-size="85" x="179.3">]</text>
<rect x="1541.3" y="128.9" width="524.4" height="420.3" fill="#fff" stroke="#000" stroke-width="2" shape-rendering="crispEdges"/>
<line x1="1584" y1="174.9" x2="1736" y2="174.9" stroke="#000000" stroke-width="8.5" stroke-linecap="round"/>
<text x="1753" y="199.4" font-size="70" transform="translate(0,199.4) scale(1,1.04) translate(0,-199.4)">20.0 mM</text>
<line x1="1584" y1="258.7" x2="1736" y2="258.7" stroke="#ff0000" stroke-width="8.5" stroke-linecap="round"/>
<text x="1753" y="283.1" font-size="70" transform="translate(0,283.1) scale(1,1.04) translate(0,-283.1)">15.4 mM</text>
<line x1="1584" y1="342.5" x2="1736" y2="342.5" stroke="#0000ff" stroke-width="8.5" stroke-linecap="round"/>
<text x="1753" y="366.8" font-size="70" transform="translate(0,366.8) scale(1,1.04) translate(0,-366.8)">12.5 mM</text>
<line x1="1584" y1="426.3" x2="1736" y2="426.3" stroke="#ff00ff" stroke-width="8.5" stroke-linecap="round"/>
<text x="1753" y="450.5" font-size="70" transform="translate(0,450.5) scale(1,1.04) translate(0,-450.5)">10.0 mM</text>
<line x1="1584" y1="510.1" x2="1736" y2="510.1" stroke="#008000" stroke-width="8.5" stroke-linecap="round"/>
<text x="1753" y="534.2" font-size="70" transform="translate(0,534.2) scale(1,1.04) translate(0,-534.2)">7.7 mM</text>
</svg></body></html>
